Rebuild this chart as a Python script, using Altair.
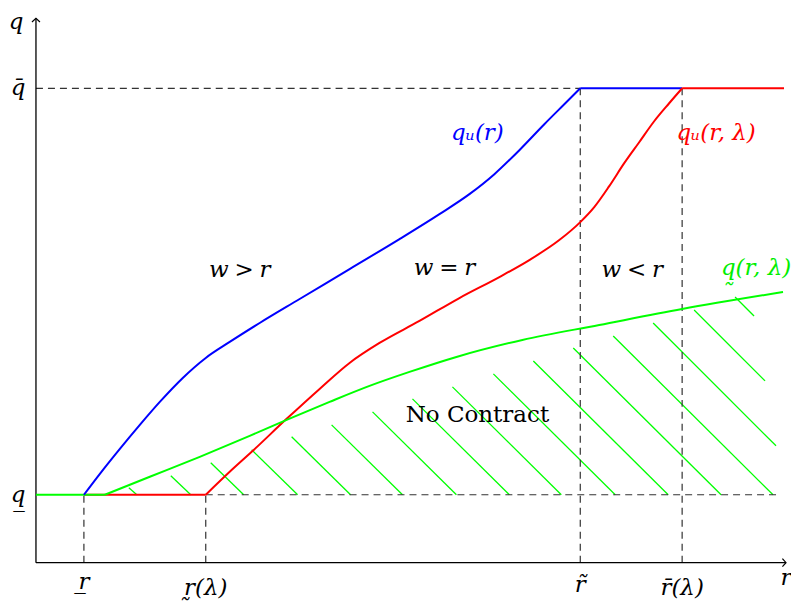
import altair as alt
import pandas as pd

# ---- data (abstract units: r to the right, q upward) ----
r_low, r_lam, r_tilde, r_bar, r_end, r_axis = 48, 170, 545, 647, 749, 751
q_low, q_bar, q_axis = 68, 475, 545

# q_u(r): rising part, then flat at q_bar
blue_r = [48, 64, 84, 104, 124, 147, 170, 194, 224, 264, 314, 364, 404, 434, 459, 484, 509, 529, 545]
blue_q = [68, 89, 114, 138, 161, 185, 205, 221, 240, 264, 294, 324, 349, 369, 389, 413, 439, 459, 475]
blue_flat_r = [r_tilde, r_bar]

# q_u(r, lambda): flat at q_low, rising, flat at q_bar
red_flat_r = [r_low, r_lam]
red_r = [170, 194, 216, 251, 284, 314, 344, 384, 424, 464, 494, 524, 545, 559, 574, 589, 604, 619, 634, 647]
red_q = [68, 91, 111, 144, 174, 200, 220, 242, 265, 286, 303, 323, 341, 356, 377, 400, 421, 442, 460, 475]
red_flat2_r = [r_bar, r_end]

# q(r, lambda): flat at q_low, then rising
green_flat_r = [0, 69]
green_r = [69, 114, 164, 214, 251, 294, 334, 374, 421, 487, 564, 647, 748]
green_q = [68, 86, 106, 127, 143, 161, 177, 191, 206, 223, 238, 254, 271]

hatch_r1 = [93, 135, 175, 216, 256, 296, 337, 377, 417, 458, 498, 538, 578, 618, 659, 700]
hatch_q1 = [75, 87, 100, 113, 126, 138, 151, 164, 176, 189, 202, 215, 227, 240, 253, 266]
hatch_r2 = [101, 155, 208, 262, 315, 367, 421, 474, 526, 580, 633, 686, 738, 741, 730, 719]
hatch_q2 = [68, 68, 68, 68, 68, 68, 68, 68, 68, 68, 68, 68, 68, 117, 182, 247]

dash_r1 = [0, r_lam, r_low, r_lam, r_tilde, r_bar]
dash_q1 = [q_bar, q_low, 0, 0, 0, 0]
dash_r2 = [r_tilde, 742, r_low, r_lam, r_tilde, r_bar]
dash_q2 = [q_bar, q_low, q_low, q_low, q_bar, q_bar]

tick_labels = ["r\u0332", "r\u0330(λ)", "r\u0303", "r\u0304(λ)", "r"]
tick_r = [r_low, r_lam, r_tilde, r_bar, r_axis]
tick_q = [-19, -25, -22, -25, -15]

ylab_labels = ["q", "q\u0304", "q\u0332"]
ylab_r = [-20, -18, -18]
ylab_q = [541, q_bar, q_low]

sp = "\u2005"
note_labels = ["qᵤ(r)", "qᵤ(r, λ)", f"w{sp}>{sp}r", f"w{sp}={sp}r", f"w{sp}<{sp}r", "q\u0330(r, λ)"]
note_r = [442, 681, 204, 409, 597, 721]
note_q = [430, 430, 293, 295, 293, 295]
note_col = ["#0000ff", "#ff0000", "black", "black", "black", "#00ee00"]

X = alt.Scale(domain=[0, r_axis], nice=False, zero=False)
Y = alt.Scale(domain=[0, q_axis], nice=False, zero=False)


def seg(rs, qs, name, col):
    return pd.DataFrame({"r": rs, "q": qs, "s": name, "c": col, "o": range(len(rs))})


smooth = pd.concat([
    seg(blue_r, blue_q, "blue", "#0000ff"),
    seg(red_r, red_q, "red", "#ff0000"),
    seg(green_r, green_q, "green", "#00ff00"),
])
flats = pd.concat([
    seg(blue_flat_r, [q_bar, q_bar], "blue_flat", "#0000ff"),
    seg(red_flat_r, [q_low, q_low], "red_flat", "#ff0000"),
    seg(red_flat2_r, [q_bar, q_bar], "red_flat2", "#ff0000"),
    seg(green_flat_r, [q_low, q_low], "green_flat", "#00ff00"),
])

hatch = pd.DataFrame({"r": hatch_r1, "q": hatch_q1, "r2": hatch_r2, "q2": hatch_q2})
dashes = pd.DataFrame({"r": dash_r1, "q": dash_q1, "r2": dash_r2, "q2": dash_q2})
axes = pd.DataFrame({"r": [0, 0], "q": [0, 0], "r2": [r_axis, 0], "q2": [0, q_axis]})


def xy():
    return dict(x=alt.X("r:Q", scale=X, axis=None), y=alt.Y("q:Q", scale=Y, axis=None))


hatch_layer = alt.Chart(hatch).mark_rule(color="#00ff00", strokeWidth=1.3).encode(
    **xy(), x2="r2:Q", y2="q2:Q")

dash_layer = alt.Chart(dashes).mark_rule(color="#333333", strokeWidth=1.2, strokeDash=[7, 5]).encode(
    **xy(), x2="r2:Q", y2="q2:Q")

axis_layer = alt.Chart(axes).mark_rule(color="black", strokeWidth=1.3).encode(
    **xy(), x2="r2:Q", y2="q2:Q")

arrow_x = alt.Chart(pd.DataFrame({"r": [r_axis], "q": [0]})).mark_point(
    shape="M -0.9 -1 L 0 0 L -0.9 1", size=64, filled=False, color="black", strokeWidth=1.2, opacity=1
).encode(**xy())

arrow_y = alt.Chart(pd.DataFrame({"r": [0], "q": [q_axis]})).mark_point(
    shape="M -1 0.9 L 0 0 L 1 0.9", size=64, filled=False, color="black", strokeWidth=1.2, opacity=1
).encode(**xy())

smooth_layer = alt.Chart(smooth).mark_line(strokeWidth=2, interpolate="monotone").encode(
    **xy(), color=alt.Color("c:N", scale=None), order="o:Q", detail="s:N")

flat_layer = alt.Chart(flats).mark_line(strokeWidth=2).encode(
    **xy(), color=alt.Color("c:N", scale=None), order="o:Q", detail="s:N")

font = "DejaVu Serif"
fs = 23

tick_layer = alt.Chart(pd.DataFrame({"r": tick_r, "q": tick_q, "t": tick_labels})).mark_text(
    font=font, fontStyle="italic", fontSize=fs, baseline="middle", align="center", color="black"
).encode(**xy(), text="t:N")

ylab_layer = alt.Chart(pd.DataFrame({"r": ylab_r, "q": ylab_q, "t": ylab_labels})).mark_text(
    font=font, fontStyle="italic", fontSize=fs, baseline="middle", align="center", color="black"
).encode(**xy(), text="t:N")

note_layer = alt.Chart(pd.DataFrame({"r": note_r, "q": note_q, "t": note_labels, "c": note_col})).mark_text(
    font=font, fontStyle="italic", fontSize=fs, baseline="middle", align="center"
).encode(**xy(), text="t:N", color=alt.Color("c:N", scale=None))

nc_layer = alt.Chart(pd.DataFrame({"r": [442], "q": [148], "t": ["No Contract"]})).mark_text(
    font=font, fontSize=23, baseline="middle", align="center", color="black"
).encode(**xy(), text="t:N")

chart = alt.layer(
    hatch_layer, dash_layer, axis_layer, arrow_x, arrow_y, flat_layer, smooth_layer,
    tick_layer, ylab_layer, note_layer, nc_layer
).properties(
    width=751, height=545,
    padding={"left": 28, "top": 10, "right": 5, "bottom": 40},
    autosize=alt.AutoSizeParams(type="none"),
).configure_view(stroke=None)

chart.save("out.html", embed_options={"renderer": "svg", "actions": False})
